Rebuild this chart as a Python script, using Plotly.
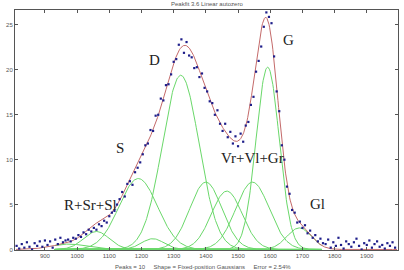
import numpy as np
import plotly.graph_objects as go

# Fitted component parameters (centre, height, sigma)
peak_names = ["p1", "R", "S", "s2", "D", "Vr", "Vl", "Gr", "G", "Gl"]
peak_centers = [975, 1060, 1190, 1235, 1322, 1400, 1465, 1545, 1592, 1690]
peak_heights = [0.6, 2.0, 7.9, 1.2, 19.4, 7.5, 6.5, 7.5, 20.3, 2.4]
peak_sigmas = [55, 40, 60, 35, 57, 50, 48, 52, 36, 38]

# Measured data points
dot_x = list(range(812, 1995, 8))
dot_y = [
    0.4, 0.1, 0.6, 0.2, 0.8, 0.3, 0.0, 0.7, 0.4, 0.9,
    0.3, 1.0, 0.5, 0.9, 0.2, 1.1, 0.6, 1.3, 0.8, 1.0,
    1.1, 0.9, 1.3, 1.2, 1.6, 1.4, 1.9, 1.7, 2.2, 2.0,
    2.4, 2.2, 2.8, 2.6, 3.2, 3.0, 3.7, 4.1, 4.3, 5.0,
    5.6, 6.4, 5.9, 7.3, 7.6, 7.2, 8.6, 9.1, 9.7, 10.6,
    11.6, 11.8, 13.3, 13.2, 14.9, 15.0, 16.8, 16.6, 18.3, 18.4,
    19.5, 20.9, 21.2, 22.8, 23.4, 21.9, 23.1, 21.6, 21.4, 20.2,
    20.3, 19.2, 19.6, 18.0, 17.6, 16.5, 16.3, 15.0, 15.5, 14.0,
    13.2, 14.0, 12.5, 13.1, 11.8, 12.6, 11.5, 12.9, 12.0, 13.8,
    14.2, 16.1, 17.0, 19.8, 21.0, 22.6, 24.8, 26.4, 25.9, 25.2,
    21.5, 17.6, 15.4, 11.6, 10.0, 7.0, 6.2, 4.4, 4.1, 3.0,
    3.1, 2.4, 2.7, 1.8, 2.1, 1.3, 1.6, 0.9, 1.2, 0.7,
    0.6, 1.1, 0.2, 0.8, 0.4, 1.3, 0.5, 0.1, 0.9, 0.6,
    0.3, 0.8, 1.2, 0.4, 0.0, 0.7, 0.5, 1.0, 0.2, 0.6,
    0.9, 0.3, 0.5, 0.1, 0.7, 0.4, 0.8, 0.2,
]

label_texts = ["D", "G", "S", "Vr+Vl+Gr", "R+Sr+Sl", "Gl"]
label_x = [1239, 1656, 1133, 1544, 1043, 1746]
label_y = [21.1, 23.3, 11.3, 10.2, 4.95, 5.07]

x_ticks = [900, 1000, 1100, 1200, 1300, 1400, 1500, 1600, 1700, 1800, 1900]
y_ticks = [0, 5, 10, 15, 20, 25]

title_text = "Peakfit 3.6 Linear autozero"
footer_text = "Peaks = 10     Shape = Fixed-position Gaussians     Error = 2.54%"


def gauss(x, c, h, s):
    return h * np.exp(-((x - c) ** 2) / (2 * s * s))


fig = go.Figure()

xc = np.arange(930, 1761, 2)
for c, h, s in zip(peak_centers, peak_heights, peak_sigmas):
    fig.add_trace(go.Scatter(x=xc, y=gauss(xc, c, h, s), mode="lines",
                             line=dict(color="#6ad86a", width=1),
                             hoverinfo="skip", showlegend=False))

xt = np.arange(810, 1996, 2)
total = np.zeros_like(xt, dtype=float)
for c, h, s in zip(peak_centers, peak_heights, peak_sigmas):
    total += gauss(xt, c, h, s)
fig.add_trace(go.Scatter(x=xt, y=total, mode="lines",
                         line=dict(color="#c46a6a", width=1),
                         showlegend=False))

fig.add_trace(go.Scatter(x=dot_x, y=dot_y, mode="markers",
                         marker=dict(color="#1e1e8a", size=2.2, symbol="square"),
                         showlegend=False))

for t, lx, ly in zip(label_texts, label_x, label_y):
    fig.add_annotation(x=lx, y=ly, text=t, showarrow=False,
                       font=dict(family="Liberation Serif", size=15, color="#222"))

fig.add_annotation(x=0.5, y=1.0, xref="paper", yref="paper", yanchor="bottom",
                   yshift=1, text=title_text, showarrow=False,
                   font=dict(family="Liberation Sans", size=6, color="#555"))
fig.add_annotation(x=0.49, y=0, xref="paper", yref="paper", yanchor="top",
                   yshift=-12, text=footer_text, showarrow=False,
                   font=dict(family="Liberation Sans", size=6, color="#555"))

axis_common = dict(showline=True, linecolor="#555", linewidth=1, mirror="ticks",
                   ticks="inside", ticklen=3, tickcolor="#555", showgrid=False,
                   zeroline=False, tickfont=dict(family="Liberation Sans", size=6, color="#555"))

fig.update_xaxes(range=[807, 1997], tickvals=x_ticks, **axis_common)
fig.update_yaxes(range=[-0.06, 26.67], tickvals=y_ticks, **axis_common)

fig.update_layout(width=404, height=270, margin=dict(l=15, r=6, t=10, b=20),
                  plot_bgcolor="white", paper_bgcolor="white")

fig.write_html("out.html")
